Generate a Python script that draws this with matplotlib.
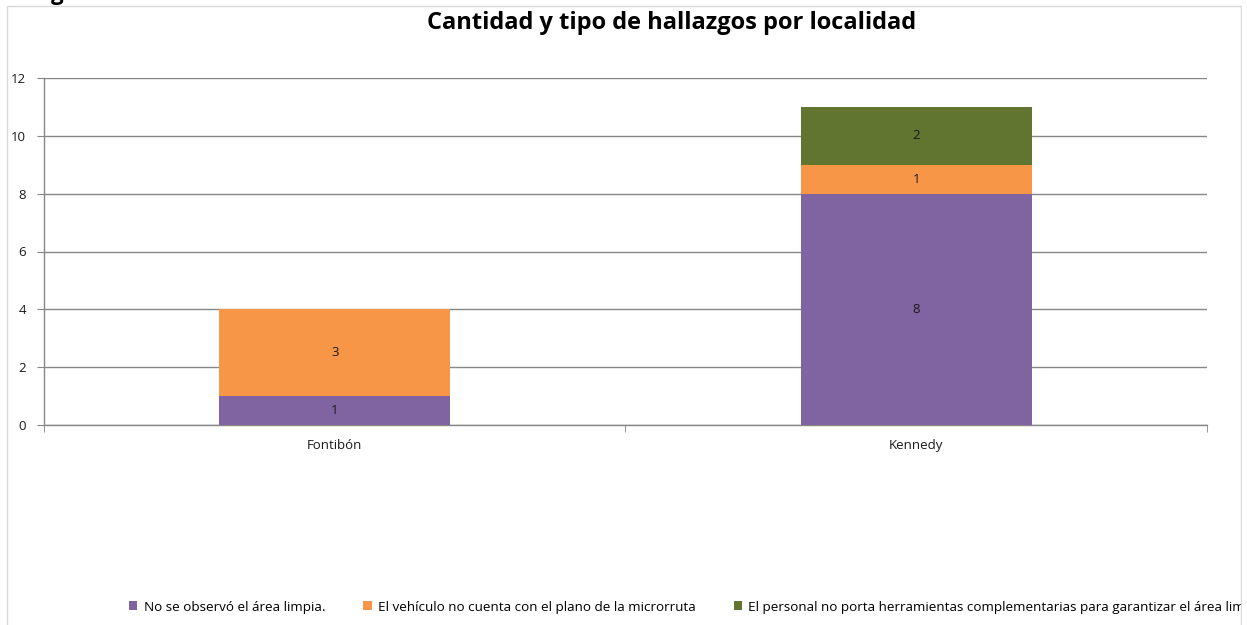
"""Cantidad y tipo de hallazgos por localidad."""
import matplotlib
matplotlib.use('Agg')
import matplotlib.pyplot as plt
from matplotlib.patches import Rectangle
import numpy as np

localidades = ['Fontibón', 'Kennedy']
series = [
    'No se observó el área limpia.',
    'El vehículo no cuenta con el plano de la microrruta',
    'El personal no porta herramientas complementarias para garantizar el área limpia',
]
area_limpia = [1, 8]
sin_plano = [3, 1]
sin_herramientas = [0, 2]
colores = ['#8064A2', '#F79646', '#617430']

plt.rcParams['font.family'] = ['Open Sans', 'DejaVu Sans']

W, H = 1247, 625
fig = plt.figure(figsize=(W / 100, H / 100), dpi=100)
ax = fig.add_axes([44 / W, 1 - 425 / H, (1207 - 44) / W, (425 - 78) / H])

x = np.arange(len(localidades))
bottom = np.zeros(len(localidades))
handles = []
for nombre, vals, color in zip(series, [area_limpia, sin_plano, sin_herramientas], colores):
    vals = np.array(vals, dtype=float)
    bars = ax.bar(x, vals, 0.397, bottom=bottom, color=color, label=nombre, zorder=3)
    handles.append(bars)
    for xi, v, b in zip(x, vals, bottom):
        if v > 0:
            ax.text(xi, b + v / 2, f'{int(v)}', ha='center', va='center',
                    fontsize=9.5, color='#1a1a1a', zorder=4)
    bottom += vals

gris = '#878787'
ax.set_xlim(-0.5, len(localidades) - 0.5)
ax.set_ylim(0, 12)
ax.set_yticks(range(0, 13, 2))
ax.yaxis.grid(True, color=gris, linewidth=1.0, zorder=0)
ax.set_axisbelow(True)
for s in ['top', 'right']:
    ax.spines[s].set_visible(False)
for s in ['left', 'bottom']:
    ax.spines[s].set_color(gris)
    ax.spines[s].set_linewidth(1.0)
ax.tick_params(axis='y', length=5, color=gris, labelsize=9.5, pad=8, labelcolor='#1a1a1a')
ax.set_xticks(x)
ax.set_xticklabels(localidades, fontsize=9.5, color='#1a1a1a')
ax.tick_params(axis='x', length=0, pad=10)
ax.set_xticks(np.arange(-0.5, len(localidades), 1.0), minor=True)
ax.tick_params(axis='x', which='minor', length=5, color=gris)

fig.text(672 / W, 1 - 23 / H, 'Cantidad y tipo de hallazgos por localidad',
         ha='center', va='center', fontsize=17, fontweight='bold')

# trozo del texto recortado arriba (como en el original)
fig.text(57 / W, 1.0, 'g', ha='center', va='baseline', fontsize=16, fontweight='bold')

leg = fig.legend(handles=handles, labels=series, loc='center left',
                 bbox_to_anchor=(124 / W, 1 - 607 / H), ncol=3, frameon=False,
                 fontsize=9.7, handlelength=0.6, handleheight=0.6,
                 handletextpad=0.45, columnspacing=2.85, borderaxespad=0)

# marco del gráfico
fig.patches.append(Rectangle((7 / W, -0.01), (1241 - 7) / W, 1 - 6 / H + 0.01,
                             transform=fig.transFigure, fill=False,
                             edgecolor='#D9D9D9', linewidth=1.0, zorder=9))
fig.patches.append(Rectangle((1242 / W, 0), 10 / W, 1, transform=fig.transFigure,
                             facecolor='white', edgecolor='none', zorder=10))

fig.savefig('out.png', dpi=100)
